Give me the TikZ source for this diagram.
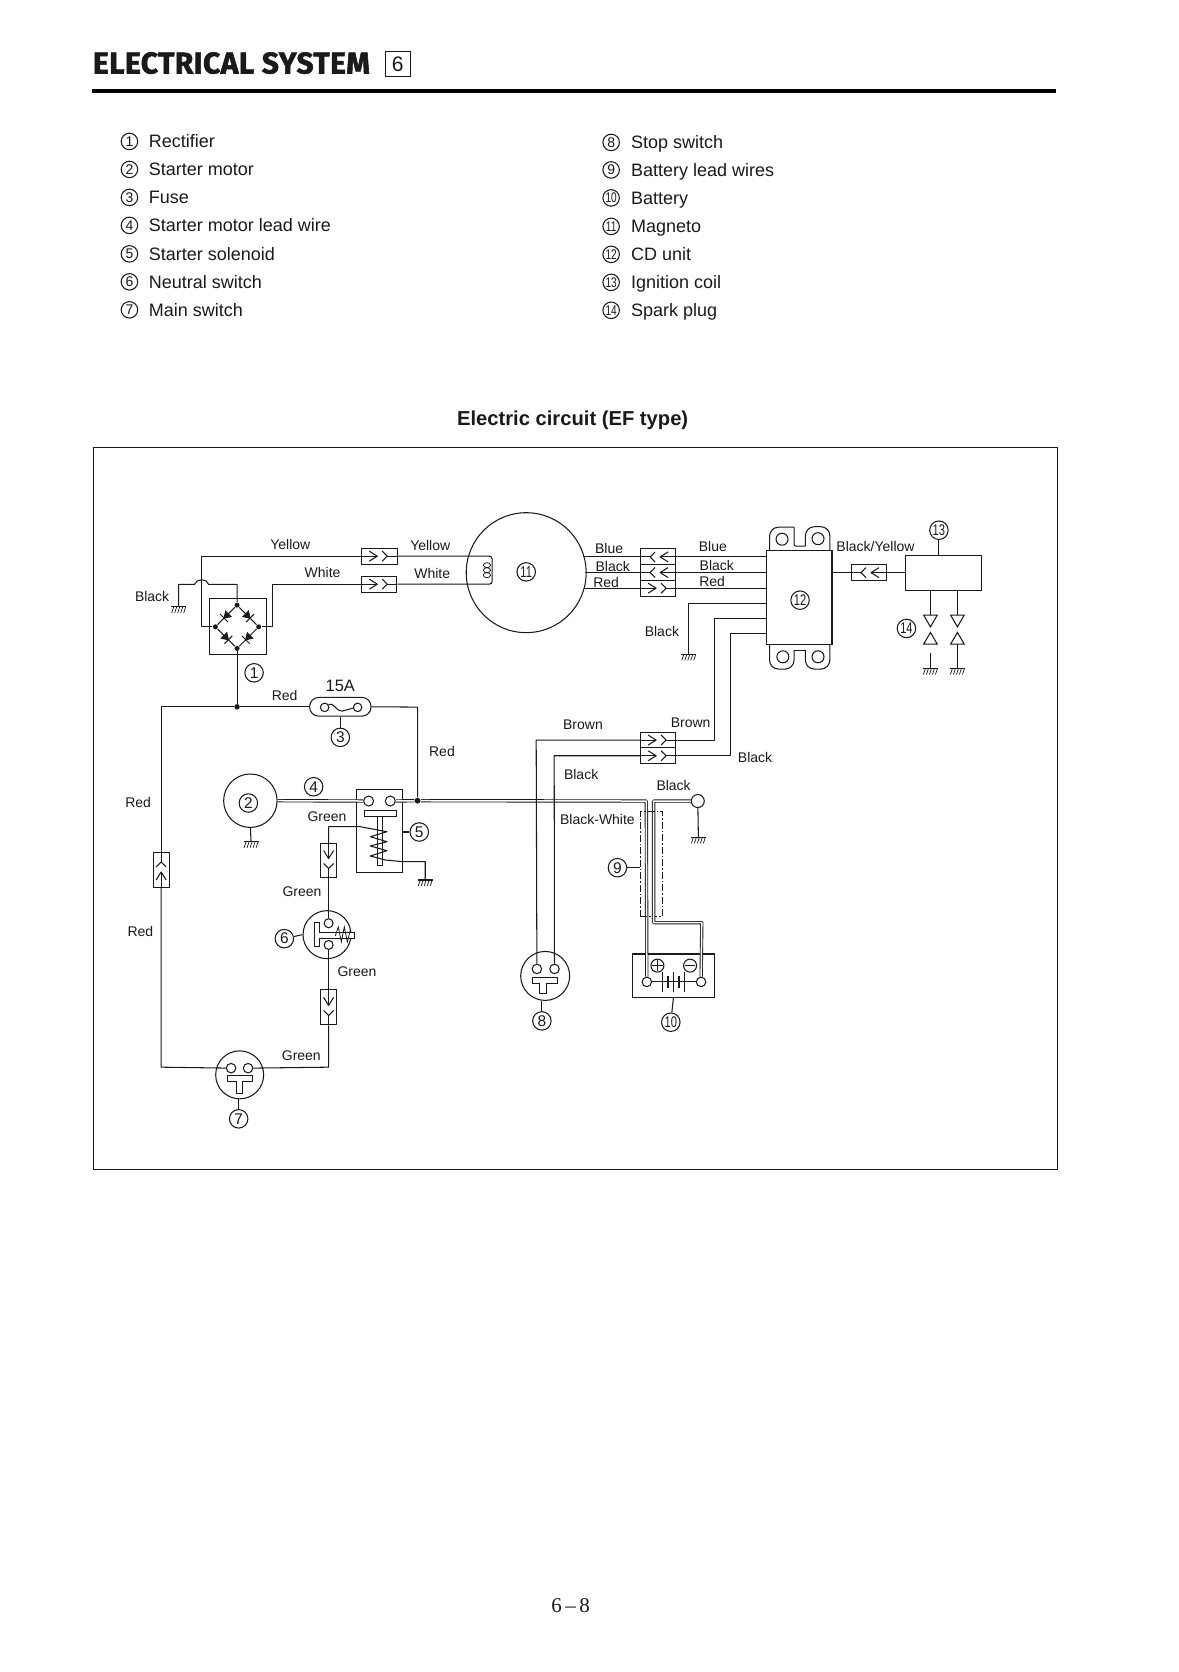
\documentclass[tikz,border=0pt]{standalone}
\usepackage{fontspec}
\usetikzlibrary{calc}
\setmainfont{Liberation Sans}
\newfontfamily\titlefont[FakeBold=1.8,LetterSpace=1.5]{Fira Sans Bold}
\newfontfamily\pagefont{Liberation Serif}
\definecolor{ink}{HTML}{1A1A1A}
\newcommand\fsz[1]{\fontsize{#1}{#1}\selectfont}
\newcommand\tn[1]{\scalebox{.72}[1]{#1}}
\tikzset{
  x=1pt,y=-1pt,
  every path/.style={line width=1.05pt,draw=ink},
  every node/.style={text=ink},
  wire/.style={line width=1.05pt,line join=round},
  dbl/.style={double=white,double distance=1.5pt,line width=.9pt,line join=round},
  lab/.style={draw=none,inner sep=0,text height=10pt,text depth=0pt,font=\fsz{14}},
  item/.style={draw=none,inner sep=0,anchor=west,text height=13pt,text depth=0pt,font=\fsz{18}},
  num/.style={draw,circle,inner sep=0,minimum size=18.5pt,font=\fsz{15.5},fill=white},
  lnum/.style={draw,circle,inner sep=0,minimum size=16.5pt,font=\fsz{14}},
  contact/.style={draw,circle,inner sep=0,minimum size=9.5pt,fill=white},
  body/.style={draw,circle,inner sep=0},
  dot/.style={circle,fill=ink,draw=none,inner sep=0,minimum size=5.5pt},
  connbox/.style={draw,rectangle,inner sep=0},
}
% connector: name, x, y, angle, length, breadth
\newcommand\cn[6]{%
  \node[connbox,rotate=#4,minimum width=#5pt,minimum height=#6pt] (#1) at (#2,#3) {};
  \begin{scope}[shift={(#1.center)},rotate=#4]
    \draw[wire] (-#5pt/2,0pt) -- (-2pt,0pt);
    \draw[wire] (-10pt,5pt) -- (-2pt,0pt) -- (-10pt,-5pt);
    \draw[wire] (3pt,5pt) -- (8pt,0pt) -- (3pt,-5pt);
    \draw[wire] (8pt,0pt) -- (#5pt/2,0pt);
  \end{scope}}
% ground symbol hanging from a named coordinate
\newcommand\gnd[1]{%
  \begin{scope}[shift={(#1)}]
    \draw (-7.5pt,0pt) -- (7.5pt,0pt);
    \foreach \q in {-5,-2,1,4,7} \draw[line width=.7pt] (\q pt,0pt) -- ++(-2pt,-6pt);
  \end{scope}}
% diode on a bridge edge
\newcommand\dio[3]{%
  \draw[wire] (#1) -- (#2);
  \begin{scope}[shift={($(#1)!.5!(#2)$)},rotate=#3]
    \fill[ink] (-3pt,-3.8pt) -- (3pt,0pt) -- (-3pt,3.8pt) -- cycle;
    \draw (3pt,-5.5pt) -- (3pt,5.5pt);
  \end{scope}}
\begin{document}
\begin{tikzpicture}
\useasboundingbox (0,0) rectangle (1178,1672);
\fill[white] (0,0) rectangle (1178,1672);

% ---------- heading
\node[draw=none,inner sep=0,anchor=base west,font=\titlefont\fsz{30}] (title) at (92,73) {ELECTRICAL SYSTEM};
\node[draw,rectangle,inner sep=0,minimum width=25pt,minimum height=25pt,font=\fsz{21},line width=1pt] (chap) at (397.5,63.5) {6};
\draw[line width=4pt,draw=black] (92,90.5) -- (1056,90.5);

% ---------- legend
\foreach \n/\t/\y [count=\i] in {1/Rectifier/141,2/Starter motor/169,3/Fuse/197,4/Starter motor lead wire/225,5/Starter solenoid/253.5,6/Neutral switch/281.5,7/Main switch/309.5}{
  \node[lnum] (la\i) at (129,\y) {\n};
  \node[item] (lt\i) at (148,\y) {\t};
}
\foreach \n/\t/\y [count=\i] in {8/Stop switch/142,9/Battery lead wires/169.5,\tn{10}/Battery/197.5,\tn{11}/Magneto/226,\tn{12}/CD unit/254,\tn{13}/Ignition coil/282,\tn{14}/Spark plug/310}{
  \node[lnum] (ra\i) at (611,\y) {\n};
  \node[item] (rt\i) at (630.5,\y) {\t};
}
\node[draw=none,inner sep=0,font=\bfseries\fsz{20.2}] (sub) at (572.5,420) {Electric circuit (EF type)};
\draw[line width=1.2pt] (93,447) rectangle (1058,1170);

% ---------- rectifier
\node[draw,rectangle,inner sep=0,minimum width=57pt,minimum height=56pt] (rect) at (237.2,626.7) {};
\node[dot,minimum size=5pt] (rt) at (236.7,605) {};
\node[dot,minimum size=5pt] (rl) at (215,626.7) {};
\node[dot,minimum size=5pt] (rr) at (258.3,626.7) {};
\node[dot,minimum size=5pt] (rb) at (236.7,648.3) {};
\dio{rt}{rl}{225}
\dio{rt}{rr}{-45}
\dio{rl}{rb}{-45}
\dio{rr}{rb}{225}
\node[num] (n1) at (253.7,672.7) {1};
\node[dot] (jr) at (236.7,706.7) {};
\draw[wire] (rb) -- (jr);

% ---------- magneto
\node[body,minimum size=120pt] (mag) at (526,572.5) {};
\node[num] (n11) at (526,571.7) {\tn{11}};
\cn{cy}{379}{556}{0}{35.5}{16}
\cn{cw}{379}{584}{0}{35}{16}
\draw[wire] (rl) -- (200.7,626.7) -- (200.7,556) -- (cy.west);
\draw[wire] (rr) -- (271.7,626.7) -- (271.7,584) -- (cw.west);
\draw[wire,rounded corners=3pt] (cy.east) -- (492,556) -- (492,584) -- (cw.east);
\foreach \q in {565,570,575} \draw[line width=.8pt] (486.7,\q) circle[x radius=3.6pt,y radius=2.5pt];
% rectifier earth with hop
\coordinate (g1) at (178.3,606.7);
\draw[wire] (rt) -- (236.7,584.3) -- (208.3,584.3) .. controls (207,578) and (196,578) .. (194,584.3) -- (178.3,584.3) -- (g1);
\gnd{g1}
\node[lab] (t1) at (151.7,596) {Black};
\node[lab] (t2) at (290,544.7) {Yellow};
\node[lab] (t3) at (430,545.7) {Yellow};
\node[lab] (t4) at (322.3,572.3) {White};
\node[lab] (t5) at (432,573.3) {White};

% ---------- fuse
\node[draw,rectangle,rounded corners=9pt,inner sep=0,minimum width=61.4pt,minimum height=18.7pt] (fuse) at (340,706.7) {};
\node[contact,minimum size=8.5pt] (fa) at (324.3,707.3) {};
\node[contact,minimum size=8.5pt] (fb) at (357.3,707.3) {};
\draw[wire] (fa) .. controls (333,701) and (336,712) .. (342,711) -- (352.8,708);
\node[num] (n3) at (340,737.3) {3};
\draw[wire] (fuse.south) -- (n3);
\node[draw=none,inner sep=0,text height=12pt,text depth=0pt,font=\fsz{16.5}] (t15) at (340,685.7) {15A};
\coordinate (bl) at (160.7,706.7);
\node[dot] (jm) at (417.3,800.7) {};
\draw[wire] (jr) -- (fuse.west);
\draw[wire] (jr) -- (bl);
\draw[wire] (fuse.east) -- (417.3,707) -- (jm);
\node[lab] (t6) at (284.3,695) {Red};
\node[lab] (t7) at (441.7,751.7) {Red};

% ---------- left run and main switch
\cn{cr}{160.7}{870}{90}{35}{16}
\draw[wire] (cr.east) -- (bl);
\node[lab] (t8) at (137.7,802.3) {Red};
\node[lab] (t9) at (140,932) {Red};
\node[body,minimum size=48pt] (sw7) at (239.3,1075) {};
\node[contact] (s7a) at (230.7,1068.3) {};
\node[contact] (s7b) at (247.7,1068.3) {};
\draw[fill=white] (226.7,1076) -- (251.7,1076) -- (251.7,1082) -- (242.3,1082) -- (242.3,1093.3) -- (236,1093.3) -- (236,1082) -- (226.7,1082) -- cycle;
\draw[wire] (cr.west) -- (160.7,1067.3) -- (s7a);
\node[num] (n7) at (238.3,1119) {7};
\draw[wire] (n7.north) -- (n7.north |- sw7.south);

% ---------- neutral switch
\node[body,minimum size=48pt] (sw6) at (326.7,934.7) {};
\node[contact,minimum size=9pt] (s6a) at (328.3,923.3) {};
\node[contact,minimum size=9pt] (s6b) at (328.3,945) {};
\draw[fill=white] (314,922.3) -- (319.3,922.3) -- (319.3,932.3) -- (354.3,932.3) -- (354.3,938.3) -- (319.3,938.3) -- (319.3,946.7) -- (314,946.7) -- cycle;
\draw[line width=.8pt] (335,936) -- (338,927) -- (341,942) -- (344,927) -- (347,942) -- (350,930);
\node[num] (n6) at (284,938.7) {6};
\draw[wire] (n6) -- (sw6.west);
\cn{cgu}{328.3}{860.5}{-90}{34.4}{16}
\cn{cgl}{328.3}{1007.5}{-90}{35}{16}
\draw[wire] (cgu.east) -- (s6a);
\draw[wire] (s6b) -- (cgl.west);
\draw[wire] (cgl.east) -- (328.3,1067.3) -- (s7b);
\node[lab] (t10) at (326.7,816) {Green};
\node[lab] (t11) at (301.7,892) {Green};
\node[lab] (t12) at (356.7,971.7) {Green};
\node[lab] (t13) at (301,1055.3) {Green};

% ---------- starter motor and solenoid
\node[body,minimum size=53.5pt] (motor) at (250,800.7) {};
\node[num] (n2) at (248,803) {2};
\coordinate (g2) at (250.7,841.7);
\draw[wire] (motor.south) -- (g2);
\gnd{g2}
\node[draw,rectangle,inner sep=0,minimum width=46.7pt,minimum height=83pt] (sol) at (379.3,830.8) {};
\node[contact,minimum size=10pt] (cl) at (368.3,801) {};
\node[contact,minimum size=10pt] (cc) at (390,801) {};
\draw[line width=.8pt] (364,810) rectangle (396,816.7);
\draw[line width=.8pt] (376.7,816.7) rectangle (382.3,865);
\coordinate (g3) at (425,880);
\draw[wire] (cgu.west) -- (328.3,826.7) -- (360,826.7) -- (386.7,831.7) -- (370,836.7) -- (386.7,841.7) -- (370,846) -- (386.7,850.7) -- (370,856) -- (385,860) -- (402.7,861.7) -- (425,861.7) -- (g3);
\gnd{g3}
\node[num] (n5) at (419,832) {5};
\draw[wire] (sol.east |- n5) -- (n5);
\draw[dbl] (motor.east) -- (cl);
\node[num] (n4) at (313.3,786.7) {4};

% ---------- stop switch
\node[body,minimum size=49pt] (sw8) at (545,976) {};
\node[contact] (s8a) at (536.7,969) {};
\node[contact] (s8b) at (554.3,969) {};
\draw[fill=white] (532.3,977.3) -- (557.3,977.3) -- (557.3,983.3) -- (546.7,983.3) -- (546.7,993.3) -- (539.3,993.3) -- (539.3,983.3) -- (532.3,983.3) -- cycle;
\node[num] (n8) at (541.7,1021) {8};
\draw[wire] (n8.north) -- (n8.north |- sw8.south);

% ---------- battery
\node[draw,rectangle,inner sep=0,minimum width=81.3pt,minimum height=43.3pt] (bat) at (673.3,975.7) {};
\node[contact] (bp) at (646.7,982) {};
\node[contact] (bm) at (701,982) {};
\node[draw,circle,inner sep=0,minimum size=13pt,font=\fsz{13}] (plus) at (657.3,965.7) {};
\draw (652,965.7) -- (662.6,965.7) (657.3,960.4) -- (657.3,971);
\node[draw,circle,inner sep=0,minimum size=13pt] (minus) at (690,965.7) {};
\draw (684.7,965.7) -- (695.3,965.7);
\draw[wire] (bp) -- (662.3,982);
\draw[wire] (684,982) -- (bm);
\draw (662.3,972) -- (662.3,992) (673,972) -- (673,992) (684,972) -- (684,992);
\draw[line width=2pt] (667.5,976) -- (667.5,988) (678.5,976) -- (678.5,988);
\draw[wire] (662.3,982) -- (684,982);
\node[num] (n10) at (670.7,1022.3) {\tn{10}};
\draw[wire] (bat.south) -- (n10);

% ---------- heavy leads
\draw[dbl] (cc) -- (jm) -- (646.2,801) -- (bp);
\node[dot] (jm2) at (jm) {};
\node[contact,minimum size=13pt] (ge) at (697.7,801) {};
\draw[dbl] (ge) -- (653.5,801) -- (653.5,922.7) -- (701.7,922.7) -- (bm);
\coordinate (g4) at (698.3,837.3);
\draw[wire] (ge) -- (g4);
\gnd{g4}
\draw[dash pattern=on 7pt off 2pt on 1.5pt off 2pt,line width=.75pt] (640,916.7) -- (640,811.7) -- (662.3,811.7) -- (662.3,916.7) -- (655,916.7) (640,916.7) -- (652,916.7);
\node[num] (n9) at (617.3,867.7) {9};
\draw[wire] (n9) -- (640,867.7);
\node[lab] (t14) at (597.3,819) {Black-White};
\node[lab] (t15b) at (581,774) {Black};
\node[lab] (t16) at (673.5,785) {Black};

% ---------- CD unit
\node[draw,rectangle,inner sep=0,minimum width=66pt,minimum height=93.6pt] (cd) at (799,597.5) {};
\draw[wire,rounded corners=9pt] (769.5,550.7) -- (769.5,527) -- (794,527);
\draw[wire,rounded corners=2pt] (794,527) -- (794,546) -- (805.4,546);
\draw[wire,rounded corners=9pt] (805.4,546) -- (805.4,526.5) -- (829.8,526.5) -- (829.8,550.7);
\draw[wire,rounded corners=9pt] (769.5,644.3) -- (769.5,669) -- (794,669) -- (794,650);
\draw[wire] (794,650) -- (805.4,650);
\draw[wire,rounded corners=9pt] (805.4,650) -- (805.4,669) -- (829.8,669) -- (829.8,644.3);
\node[contact,minimum size=12pt] (h1) at (782,539) {};
\node[contact,minimum size=12pt] (h2) at (818,538.5) {};
\node[contact,minimum size=12pt] (h3) at (782.8,656.7) {};
\node[contact,minimum size=12pt] (h4) at (818,656.7) {};
\node[num] (n12) at (800,600) {\tn{12}};

% triple connector
\cn{tr1}{658}{556.7}{180}{35}{16}
\cn{tr2}{658}{572.4}{180}{35}{15.4}
\cn{tr3}{658}{588}{0}{35}{16}
\draw[wire] (582.8,556.7) -- (tr1.east);
\draw[wire] (585.3,572.4) -- (tr2.east);
\draw[wire] (583.5,588) -- (tr3.west);
\draw[wire] (tr1.west) -- (cd.west |- tr1.west);
\draw[wire] (tr2.west) -- (cd.west |- tr2.west);
\draw[wire] (tr3.east) -- (cd.west |- tr3.east);
\node[lab] (l1) at (609,548.3) {Blue};
\node[lab] (l2) at (612.6,566.7) {Black};
\node[lab] (l3) at (606,582.3) {Red};
\node[lab] (l4) at (712.8,546.7) {Blue};
\node[lab] (l5) at (716.7,565.7) {Black};
\node[lab] (l6) at (712,581.3) {Red};

% CD earth
\coordinate (g5) at (688.7,654.3);
\draw[wire] (766,603.3) -- (688.7,603.3) -- (g5);
\gnd{g5}
\node[lab] (l7) at (661.8,631.7) {Black};

% brown/black pair
\cn{db1}{658}{740}{0}{35}{15.6}
\cn{db2}{658}{755.7}{0}{35}{15.6}
\draw[wire] (766,618.3) -- (714.6,618.3) -- (714.6,740) -- (db1.east);
\draw[wire] (766,633.3) -- (730,633.3) -- (730,755.7) -- (db2.east);
\draw[wire] (db1.west) -- (536,740) -- (s8a);
\draw[wire] (db2.west) -- (554,755.7) -- (s8b);
\node[lab] (l8) at (582.8,724.3) {Brown};
\node[lab] (l9) at (690.5,722.7) {Brown};
\node[lab] (l10) at (755,757.7) {Black};

% ---------- ignition coil and plugs
\node[draw,rectangle,inner sep=0,minimum width=76pt,minimum height=34.6pt] (coil) at (943.5,573) {};
\cn{cby}{869}{572.5}{180}{34.5}{16}
\draw[wire] (cd.east |- cby.center) -- (cby.east);
\draw[wire] (cby.west) -- (coil.west |- cby.center);
\node[lab,font=\fsz{14}] (l11) at (875.5,546.7) {Black/Yellow};
\node[num] (n13) at (939,530) {\tn{13}};
\draw[wire] (n13) -- (939,555.7);
\node[num] (n14) at (906.5,628.3) {\tn{14}};
\foreach \k/\x in {a/930.5,b/957.5}{
  \coordinate (pt\k) at (\x,615);
  \draw[wire] (\x,590.3) -- (pt\k);
  \draw[line join=miter] (\x-6.8,615) -- (\x+6.8,615) -- (\x,626.7) -- cycle;
  \draw[line join=miter] (\x-6.8,644) -- (\x+6.8,644) -- (\x,632.3) -- cycle;
  \coordinate (gs\k) at (\x,668.3);
}
\draw[wire] (930.5,652.7) -- (gsa);
\draw[wire] (957.5,644) -- (gsb);
\gnd{gsa}
\gnd{gsb}

% ---------- folio
\node[draw=none,inner sep=0,font=\pagefont\fsz{21}] (folio) at (570.5,1606.5) {6\,–\,8};
\end{tikzpicture}
\end{document}
